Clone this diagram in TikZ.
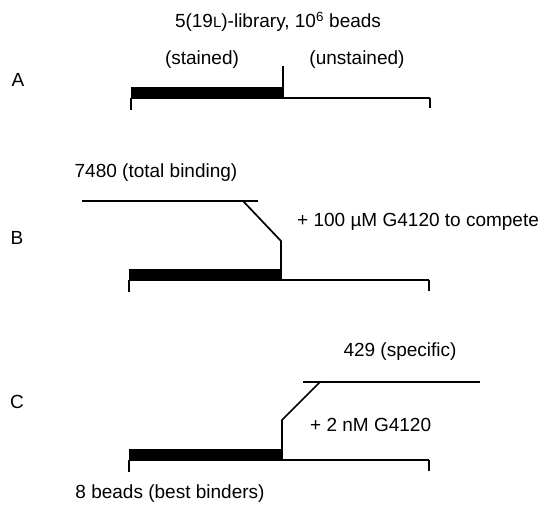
\documentclass[tikz,border=0pt]{standalone}
\usepackage{fontspec}
\setmainfont{Liberation Sans}
\usetikzlibrary{positioning}

\begin{document}
\begin{tikzpicture}[
  x=1pt,y=-1pt,
  every node/.style={font=\fontsize{19}{22}\selectfont,inner sep=0pt},
  trace/.style={line width=1.7pt,line join=round},
  stain/.style={fill=black},
  endtick/.style={line width=1.7pt}
]
\useasboundingbox (0,0) rectangle (545,506);

% panel A
\node (title) at (278,22) {5(19{\fontsize{15}{18}\selectfont L})-library, 10\textsuperscript{6} beads};
\node (stained) at (202,60) {(stained)};
\node (unstained) at (357,60) {(unstained)};
\node (pa) at (18,80) {A};
\coordinate (a0) at (131,98);
\coordinate (a1) at (283,98);
\coordinate (a2) at (430,98);
\fill[stain] (131,87) rectangle (a1);
\draw[trace] (a0) -- (a2);
\draw[endtick] (a0) -- ++(0,12);
\draw[endtick] (a2) -- ++(0,10);
\draw[trace] (a1) -- (283,66);

% panel B
\node (total) at (156,173) {7480 (total binding)};
\node[anchor=west] (compete) at (297,222) {+ 100 µM G4120 to compete};
\node (pb) at (17,238) {B};
\coordinate (b0) at (129,280);
\coordinate (b1) at (281,280);
\coordinate (b2) at (429,280);
\fill[stain] (129,269) rectangle (b1);
\draw[trace] (b0) -- (b2);
\draw[endtick] (b0) -- ++(0,12);
\draw[endtick] (b2) -- ++(0,11);
\draw[trace] (82,201) -- (258,201);
\draw[trace] (243,201) -- (281,241) -- (b1);

% panel C
\node (specific) at (400,352) {429 (specific)};
\node[anchor=west] (nanomolar) at (310,425) {+ 2 nM G4120};
\node (pc) at (17,402) {C};
\coordinate (c0) at (129,460);
\coordinate (c1) at (282,460);
\coordinate (c2) at (429,460);
\fill[stain] (129,449) rectangle (c1);
\draw[trace] (c0) -- (c2);
\draw[endtick] (c0) -- ++(0,12);
\draw[endtick] (c2) -- ++(0,11);
\draw[trace] (303,382) -- (480,382);
\draw[trace] (320,382) -- (282,420) -- (c1);
\node (best) at (170,494) {8 beads (best binders)};
\end{tikzpicture}
\end{document}
